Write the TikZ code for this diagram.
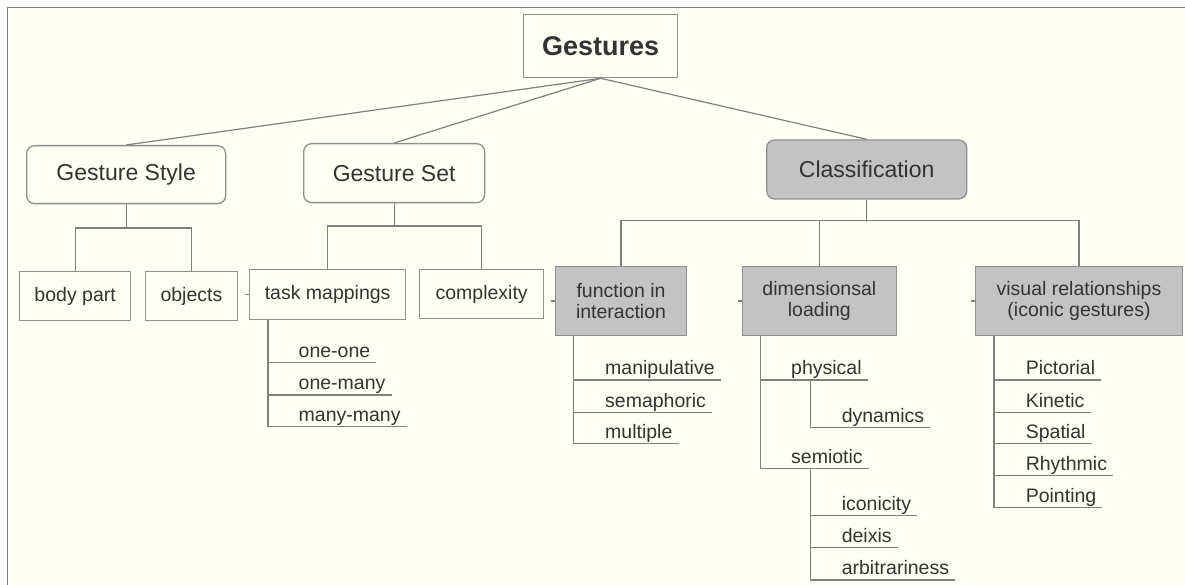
\documentclass[tikz,border=0pt]{standalone}
\usepackage{fontspec}
\setmainfont{Liberation Sans}
\definecolor{bg}{HTML}{FFFFF6}
\definecolor{ln}{HTML}{808080}
\definecolor{bd}{HTML}{8F8F8F}
\definecolor{gfill}{HTML}{C3C3C3}
\definecolor{txt}{HTML}{333333}
\tikzset{
  conn/.style={draw=ln, line width=1.2pt},
  basebox/.style={draw=bd, line width=1.3pt, text=txt, inner sep=0pt, anchor=north west, align=center},
  topbox/.style={basebox, fill=bg, font=\bfseries\fontsize{27}{30}\selectfont},
  roundbox/.style={basebox, fill=bg, rounded corners=8pt, font=\fontsize{23}{26}\selectfont},
  smallbox/.style={basebox, fill=bg, font=\fontsize{19.5}{20.5}\selectfont},
  graybox/.style={basebox, fill=gfill, font=\fontsize{19.5}{20.5}\selectfont},
  leaf/.style={inner xsep=6pt, inner ysep=5pt, text depth=0pt, anchor=south west, text=txt, font=\fontsize{19.5}{20.5}\selectfont}
}
\begin{document}
\begin{tikzpicture}[x=1pt, y=-1pt]
\useasboundingbox (0,0) rectangle (1185,585);
\fill[white] (0,0) rectangle (1185,585);
\fill[bg] (7.5,7.5) rectangle (1185,585);
\draw[ln, line width=1.5pt] (7.5,585) -- (7.5,7.5) -- (1185,7.5);

% level 0 and 1
\node[topbox, minimum width=154pt, minimum height=63pt] (gestures) at (523,14) {Gestures};
\node[roundbox, minimum width=199pt, minimum height=58pt] (gstyle) at (26,145) {Gesture Style};
\node[roundbox, minimum width=181pt, minimum height=59pt] (gset) at (303,143) {Gesture Set};
\node[roundbox, fill=gfill, minimum width=200pt, minimum height=59pt] (class) at (766,139.3) {Classification};

% level 2
\node[smallbox, minimum width=111pt, minimum height=49pt] (bodypart) at (19,271) {body part};
\node[smallbox, minimum width=91.5pt, minimum height=49pt] (objects) at (145,271) {objects};
\node[smallbox, minimum width=156pt, minimum height=49.7pt] (tm) at (249,269) {task mappings};
\node[smallbox, minimum width=124pt, minimum height=49pt] (cx) at (419,269) {complexity};
\node[graybox, minimum width=130.7pt, minimum height=69.3pt] (func) at (555,265.7) {function in\\interaction};
\node[graybox, minimum width=154pt, minimum height=69.3pt] (dim) at (741.7,265.7) {dimensionsal\\loading};
\node[graybox, minimum width=206.7pt, minimum height=69.3pt] (vis) at (975,265.7) {visual relationships\\(iconic gestures)};

% connectors from root
\draw[conn] (gestures.south) -- (gstyle.north);
\draw[conn] (gestures.south) -- (gset.north);
\draw[conn] (gestures.south) -- (class.north);

% brackets
\draw[conn] (gstyle.south) -- ++(0,25);
\draw[conn] (bodypart.north) -- ++(0,-43) -| (objects.north);
\draw[conn] (gset.south) -- ++(0,24);
\draw[conn] (tm.north) -- ++(0,-43) -| (cx.north);
\draw[conn] (class.south) -- ++(0,22.4);
\draw[conn] (func.north) -- ++(0,-45) -| (vis.north);
\draw[conn] (dim.north) -- ++(0,-45);

% small stubs
\draw[conn] (tm.west) -- ++(-4,0);
\draw[conn] (func.west) -- ++(-4,0);
\draw[conn] (dim.west) -- ++(-4,0);
\draw[conn] (vis.west) -- ++(-4,0);

% leaves: task mappings
\node[leaf] (oneone) at (292.5,362.7) {one-one};
\node[leaf] (onemany) at (292.5,395) {one-many};
\node[leaf] (manymany) at (292.5,426.7) {many-many};
\coordinate (tmS) at ([xshift=19pt]tm.south west);
\draw[conn] (tmS) |- (manymany.south east);
\foreach \n in {oneone,onemany} \draw[conn] (tmS |- \n.south) -- (\n.south east);

% leaves: function
\node[leaf] (manip) at (599,380) {manipulative};
\node[leaf] (sema) at (599,412.3) {semaphoric};
\node[leaf] (multi) at (599,443.7) {multiple};
\coordinate (funcS) at ([xshift=18.3pt]func.south west);
\draw[conn] (funcS) |- (multi.south east);
\foreach \n in {manip,sema} \draw[conn] (funcS |- \n.south) -- (\n.south east);

% leaves: dimensional
\node[leaf] (phys) at (785,380) {physical};
\node[leaf] (semio) at (785,468.3) {semiotic};
\coordinate (dimS) at ([xshift=19pt]dim.south west);
\draw[conn] (dimS) |- (semio.south east);
\draw[conn] (dimS |- phys.south) -- (phys.south east);
\node[leaf] (dyn) at (835.6,427.7) {dynamics};
\coordinate (physS) at ([xshift=25.7pt]phys.south west);
\draw[conn] (physS) |- (dyn.south east);
\node[leaf] (icon) at (835.6,515.3) {iconicity};
\node[leaf] (deix) at (835.6,547.3) {deixis};
\node[leaf] (arbi) at (835.6,580) {arbitrariness};
\coordinate (semS) at ([xshift=25.7pt]semio.south west);
\draw[conn] (semS) |- (arbi.south east);
\foreach \n in {icon,deix} \draw[conn] (semS |- \n.south) -- (\n.south east);

% leaves: visual
\node[leaf] (pict) at (1019.6,380) {Pictorial};
\node[leaf] (kin) at (1019.6,412.3) {Kinetic};
\node[leaf] (spat) at (1019.6,443.7) {Spatial};
\node[leaf] (rhy) at (1019.6,475.7) {Rhythmic};
\node[leaf] (point) at (1019.6,507.3) {Pointing};
\coordinate (visS) at ([xshift=19pt]vis.south west);
\draw[conn] (visS) |- (point.south east);
\foreach \n in {pict,kin,spat,rhy} \draw[conn] (visS |- \n.south) -- (\n.south east);
\end{tikzpicture}
\end{document}
